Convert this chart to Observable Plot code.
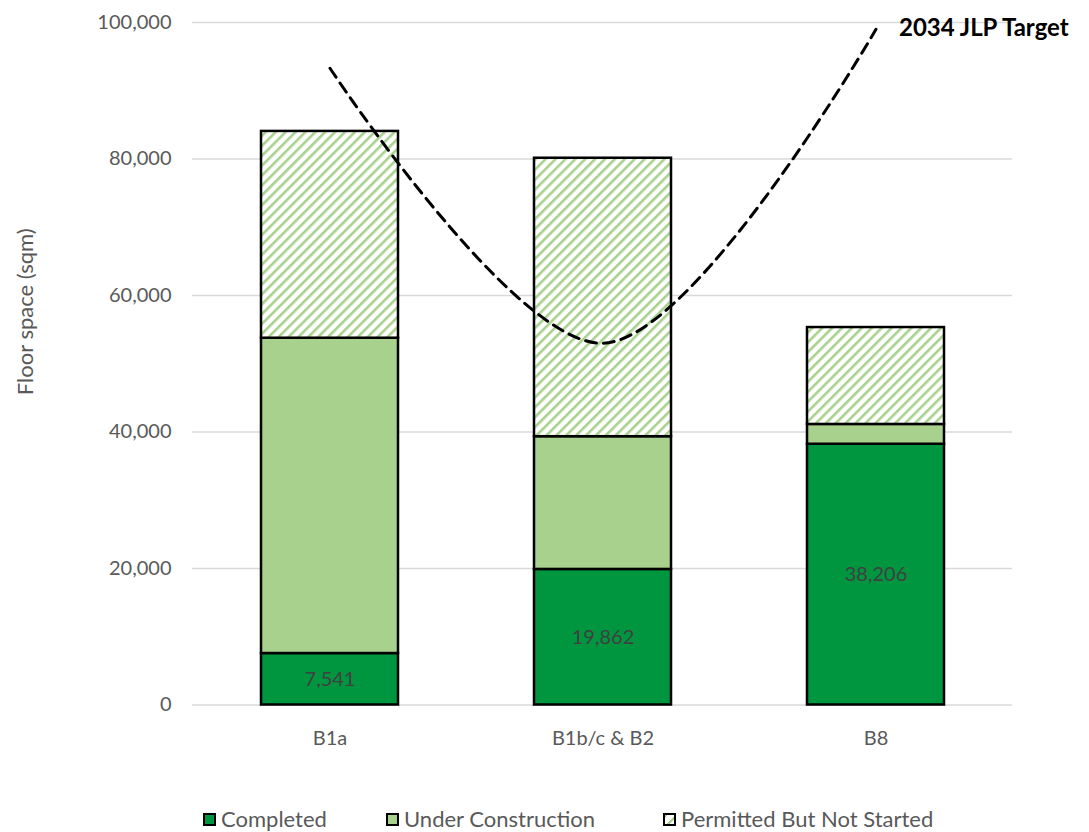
<!DOCTYPE html>
<html>
<head>
<meta charset="utf-8">
<script src="https://cdn.jsdelivr.net/npm/d3@7"></script>
<script src="https://cdn.jsdelivr.net/npm/@observablehq/plot@0.6"></script>
<style>
  html, body { margin: 0; padding: 0; background: #fff; }
  body { width: 1089px; height: 832px; overflow: hidden; font-family: Lato, "Open Sans", sans-serif; }
  #chart { position: relative; width: 1089px; }
  #legend { position: relative; width: 1089px; height: 62px; }
  .item { position: absolute; top: 37px; height: 24px; line-height: 24px; display: flex; align-items: center; font-size: 22px; color: #595959; white-space: nowrap; }
  .sw { width: 9px; height: 9px; border: 2px solid #000; margin-right: 5px; box-sizing: content-box; }
</style>
</head>
<body>
<div id="chart"></div>
<div id="legend"></div>
<script>
// Employment floor space by use class (sqm)
const categories = ["B1a", "B1b/c & B2", "B8"];
const series = ["Completed", "Under Construction", "Permitted But Not Started"];
const completed = [7541, 19862, 38206];
const underConstruction = [46200, 19450, 2900];
const permitted = [30300, 40800, 14200];
const target = [93300, 53000, 99000];
const targetLabel = "2034 JLP Target";
const yTicks = [0, 20000, 40000, 60000, 80000, 100000];

const seriesColors = ["#00963F", "#A9D18E", "url(#hatch)"];
const values = [completed, underConstruction, permitted];

const rows = [];
series.forEach((s, i) => categories.forEach((c, j) => rows.push({category: c, series: s, value: values[i][j]})));
const targetRows = categories.map((c, j) => ({category: c, value: target[j]}));
const fmt = d3.format(",");

const chart = Plot.plot({
  width: 1089,
  height: 770,
  marginLeft: 192,
  marginRight: 77,
  marginTop: 22,
  marginBottom: 65.5,
  style: {fontFamily: "Lato, 'Open Sans', sans-serif", fontSize: "20px", color: "#595959", background: "white"},
  x: {domain: categories, paddingInner: 0.5, paddingOuter: 0.25, label: null},
  y: {domain: [0, 100000], label: null},
  color: {domain: series, range: seriesColors},
  marks: [
    Plot.gridY(yTicks, {stroke: "#D9D9D9", strokeOpacity: 1, strokeWidth: 1.5}),
    Plot.axisY(yTicks, {tickSize: 0, tickPadding: 21, tickFormat: fmt, fill: "#595959", fontSize: 20, label: null}),
    Plot.axisX({tickSize: 0, tickPadding: 26, fill: "#595959", fontSize: 20, label: null}),
    Plot.barY(rows, {x: "category", y: "value", fill: "series", stroke: "#000", strokeWidth: 2.5}),
    Plot.text(rows.filter(d => d.series === "Completed"), Plot.stackY({
      x: "category", y: "value", text: d => fmt(d.value), fill: "#404040", fontSize: 20
    })),
    Plot.line(targetRows, {x: "category", y: "value", curve: "catmull-rom", stroke: "#000", strokeWidth: 3, strokeDasharray: "11,7"}),
    Plot.text(targetRows.slice(-1), {x: "category", y: "value", text: () => targetLabel, textAnchor: "start", dx: 23, dy: -1, fontWeight: "bold", fill: "#000", fontSize: 24}),
    Plot.text(["Floor space (sqm)"], {frameAnchor: "left", textAnchor: "middle", dx: -167, dy: -52, rotate: -90, fill: "#595959", fontSize: 22})
  ]
});

// diagonal hatch used for the "not started" segments
const ns = "http://www.w3.org/2000/svg";
const defs = document.createElementNS(ns, "defs");
defs.innerHTML = `<pattern id="hatch" patternUnits="userSpaceOnUse" width="7" height="7" patternTransform="rotate(45)">
  <rect width="7" height="7" fill="#fff"/><rect width="2.6" height="7" fill="#A9D18E"/></pattern>`;
chart.insertBefore(defs, chart.firstChild);
document.getElementById("chart").appendChild(chart);

// legend below the plot
const legendLeft = [203, 386, 663];
const legend = document.getElementById("legend");
series.forEach((s, i) => {
  const item = document.createElement("div");
  item.className = "item";
  item.style.left = legendLeft[i] + "px";
  const sw = document.createElement("div");
  sw.className = "sw";
  if (i === 2) {
    sw.style.background = "repeating-linear-gradient(-45deg, #fff 0 3px, #A9D18E 3px 5px, #fff 5px 8px)";
  } else {
    sw.style.background = seriesColors[i];
  }
  const label = document.createElement("span");
  label.textContent = s;
  item.appendChild(sw);
  item.appendChild(label);
  legend.appendChild(item);
});
</script>
</body>
</html>
